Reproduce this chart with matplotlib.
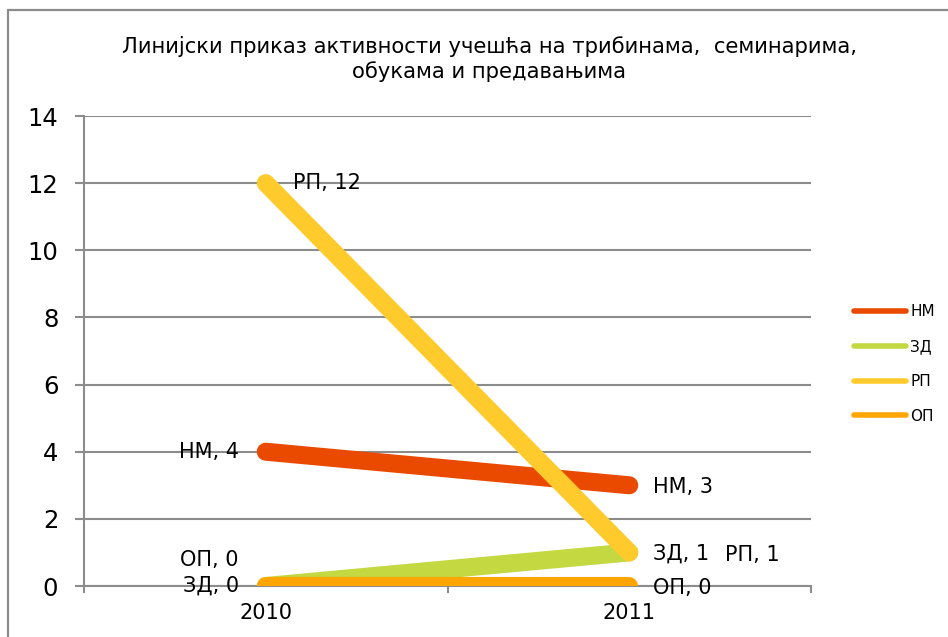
import matplotlib
matplotlib.use('Agg')
import matplotlib.pyplot as plt
from matplotlib.patches import Rectangle

years = ['2010', '2011']
series_names = ['НМ', 'ЗД', 'РП', 'ОП']
nm = [4, 3]
zd = [0, 1]
rp = [12, 1]
op = [0, 0]

title = 'Линијски приказ активности учешћа на трибинама,  семинарима,\nобукама и предавањима'

colors = {'НМ': '#EA4A00', 'ЗД': '#C3D841', 'РП': '#FFCA2C', 'ОП': '#FFA500'}
# label offsets in pixels, (series, year index) -> (dx, dy, ha)
label_offsets = {
    ('НМ', 0): (-27, 0, 'right'),
    ('НМ', 1): (24, -2, 'left'),
    ('ЗД', 0): (-27, 0, 'right'),
    ('ЗД', 1): (24, -1, 'left'),
    ('РП', 0): (27, 0, 'left'),
    ('РП', 1): (96, -3, 'left'),
    ('ОП', 0): (-27, 26, 'right'),
    ('ОП', 1): (24, -2, 'left'),
}

grid_col = '#8C8C8C'

fig = plt.figure(figsize=(9.48, 6.37), dpi=100)
ax = fig.add_axes([84 / 948, 51 / 637, (811 - 84) / 948, (586 - 116) / 637])

# outer chart frame
fig.add_artist(Rectangle((8 / 948, -0.1), 1.2, (627 / 637) + 0.1, transform=fig.transFigure,
                         fill=False, edgecolor=grid_col, linewidth=1.6))

xpos = [0.5, 1.5]
data = {'НМ': nm, 'ЗД': zd, 'РП': rp, 'ОП': op}
for name in series_names:
    ax.plot(xpos, data[name], color=colors[name], linewidth=13,
            solid_capstyle='round', label=name, zorder=3, clip_on=True)

for name in series_names:
    for i, v in enumerate(data[name]):
        dx, dy, ha = label_offsets[(name, i)]
        ax.annotate(f'{name}, {v}', (xpos[i], v), xytext=(dx, dy),
                    textcoords='offset pixels', ha=ha, va='center',
                    fontsize=15, color='black', zorder=4, annotation_clip=False)

ax.set_xlim(0, 2)
ax.set_ylim(0, 14)
ax.set_yticks(range(0, 15, 2))
ax.yaxis.grid(True, color=grid_col, linewidth=1.5)
ax.set_axisbelow(True)

ax.set_xticks([0, 1, 2])
ax.set_xticklabels(['', '', ''])
ax.set_xticks(xpos, minor=True)
ax.set_xticklabels(years, minor=True)
ax.tick_params(axis='x', which='major', length=5, width=1.5, color=grid_col)
ax.tick_params(axis='x', which='minor', length=0, labelsize=15, pad=12)
ax.tick_params(axis='y', length=6.5, width=1.5, color=grid_col, labelsize=17.5, pad=12)

for s in ['top', 'right']:
    ax.spines[s].set_visible(False)
for s in ['left', 'bottom']:
    ax.spines[s].set_color(grid_col)
    ax.spines[s].set_linewidth(1.5)

fig.text(489 / 948, 1 - 59 / 637, title, ha='center', va='center', fontsize=15.2,
         linespacing=1.3)

leg_handles = [plt.Line2D([], [], color=colors[n], linewidth=4, solid_capstyle='round')
               for n in series_names]
fig.legend(leg_handles, series_names, loc='center left',
           bbox_to_anchor=(840 / 948, 1 - 364 / 637), frameon=False, fontsize=11,
           handlelength=3.4, handletextpad=0.3, labelspacing=1.3)

fig.savefig('out.png', dpi=100)
